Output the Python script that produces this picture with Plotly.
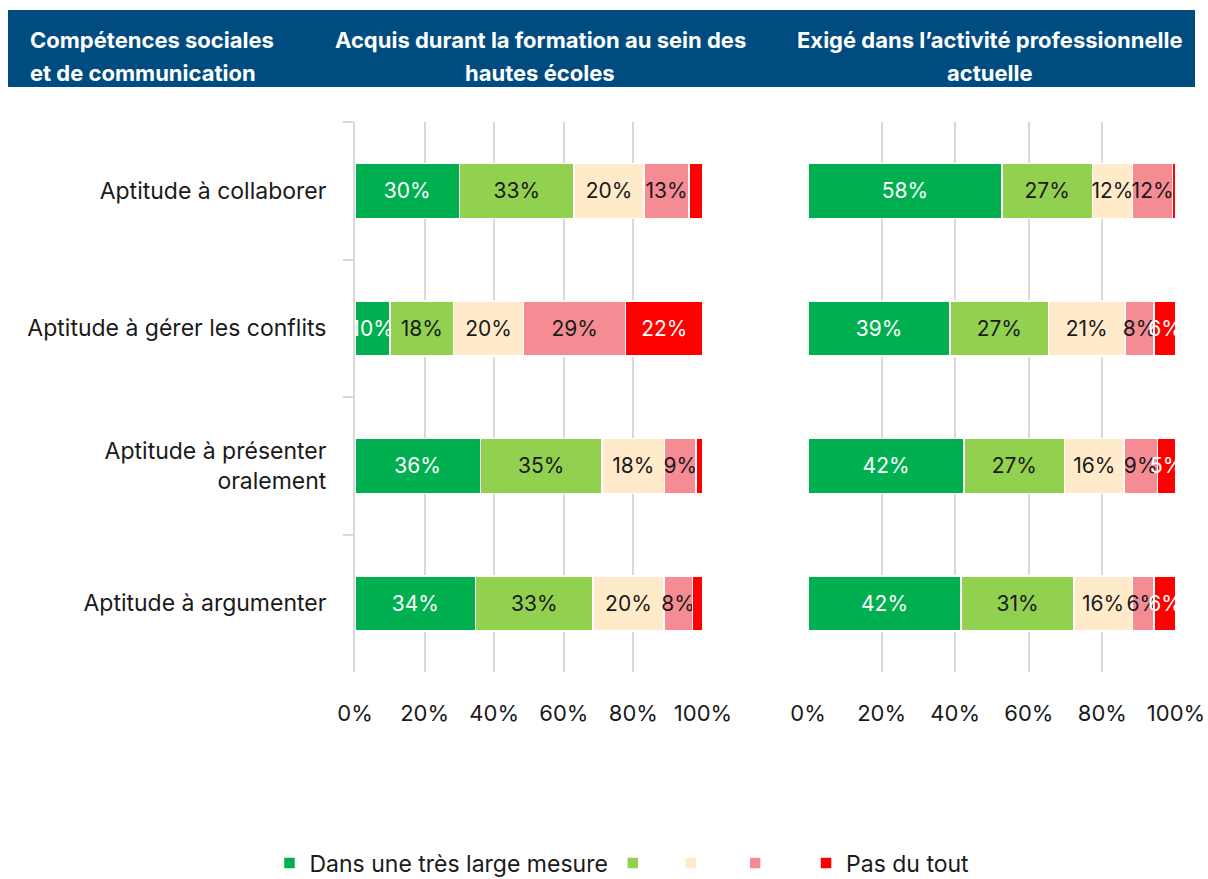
import plotly.graph_objects as go
from plotly.subplots import make_subplots

# Categories (top to bottom)
skills = [
    "Aptitude à collaborer",
    "Aptitude à gérer les conflits",
    "Aptitude à présenter<br>oralement",
    "Aptitude à argumenter",
]

levels = [
    "Dans une très large mesure",
    "\u00a0\u00a0",
    "\u00a0\u00a0\u00a0",
    "\u00a0\u00a0\u00a0\u00a0",
    "Pas du tout",
]
colors = ["#00B050", "#92D050", "#FFEBC9", "#F58C94", "#FF0000"]
text_colors = ["#ffffff", "#1a1a1a", "#1a1a1a", "#1a1a1a", "#ffffff"]

# Acquis durant la formation au sein des hautes écoles (%)
acquired = [
    [30, 10, 36, 34],
    [33, 18, 35, 33],
    [20, 20, 18, 20],
    [13, 29, 9, 8],
    [4, 22, 2, 3],
]

# Exigé dans l'activité professionnelle actuelle (%)
required = [
    [58, 39, 42, 42],
    [27, 27, 27, 31],
    [12, 21, 16, 16],
    [12, 8, 9, 6],
    [1, 6, 5, 6],
]

x_ticks = [0, 20, 40, 60, 80, 100]
x_tick_text = ["0%", "20%", "40%", "60%", "80%", "100%"]

W, H = 1208, 879
M_T, M_B = 122, 207
PLOT_H = H - M_T - M_B


def px_x(px):
    return px / W


def px_y(py):
    return (H - M_B - py) / PLOT_H


FONT = "Inter"
DARK = "#1a1a1a"
GRID = "#d9d9d9"

fig = make_subplots(rows=1, cols=2, shared_yaxes=False)

for col, data in ((1, acquired), (2, required)):
    for i, vals in enumerate(data):
        labels = [f"{v}%" if v >= 5 else "" for v in vals]
        fig.add_trace(
            go.Bar(
                y=skills,
                x=vals,
                orientation="h",
                name=levels[i],
                marker=dict(color=colors[i], line=dict(color="#ffffff", width=1.5)),
                text=labels,
                textposition="inside",
                insidetextanchor="middle",
                textangle=0,
                constraintext="none",
                textfont=dict(family=FONT, size=21, color=text_colors[i]),
                showlegend=(col == 1),
                legendgroup=str(i),
                hoverinfo="skip",
            ),
            row=1,
            col=col,
        )

fig.update_layout(
    width=W,
    height=H,
    autosize=False,
    barmode="stack",
    barnorm="percent",
    bargap=0.6,
    margin=dict(l=0, r=0, t=M_T, b=M_B, autoexpand=False),
    paper_bgcolor="#ffffff",
    plot_bgcolor="#ffffff",
    font=dict(family=FONT, size=20, color=DARK),
    legend=dict(
        orientation="h",
        x=px_x(622),
        xanchor="center",
        y=px_y(863),
        yanchor="middle",
        font=dict(family=FONT, size=23, color=DARK),
        traceorder="normal",
        itemwidth=30,
    ),
)

xaxis_common = dict(
    range=[0, 100],
    tickvals=x_ticks,
    ticktext=x_tick_text,
    showgrid=True,
    gridcolor=GRID,
    gridwidth=2,
    zeroline=False,
    showline=False,
    ticks="",
    ticklabelstandoff=26,
    automargin=False,
    tickfont=dict(family=FONT, size=22, color=DARK),
    fixedrange=True,
)
fig.update_xaxes(domain=[px_x(355), px_x(703)], row=1, col=1, **xaxis_common)
fig.update_xaxes(domain=[px_x(808), px_x(1176)], row=1, col=2, **xaxis_common)

fig.update_yaxes(
    row=1,
    col=1,
    autorange="reversed",
    automargin=False,
    showline=True,
    linecolor=GRID,
    linewidth=2,
    ticks="outside",
    tickson="boundaries",
    ticklen=10,
    tickcolor=GRID,
    tickwidth=2,
    ticklabelstandoff=22,
    tickfont=dict(family=FONT, size=23, color=DARK),
    showgrid=False,
)
fig.update_yaxes(
    row=1,
    col=2,
    autorange="reversed",
    automargin=False,
    showline=False,
    showticklabels=False,
    ticks="",
    showgrid=False,
)

# Header band
fig.add_shape(
    type="rect",
    xref="paper",
    yref="paper",
    x0=px_x(8),
    x1=px_x(1195),
    y0=px_y(87),
    y1=px_y(10),
    fillcolor="#004C80",
    line=dict(width=0),
    layer="above",
)

header_lines = [
    ("Compétences sociales", 28, 40, "left"),
    ("et de communication", 28, 73, "left"),
    ("Acquis durant la formation au sein des", 540, 40, "center"),
    ("hautes écoles", 540, 73, "center"),
    ("Exigé dans l’activité professionnelle", 990, 40, "center"),
    ("actuelle", 990, 73, "center"),
]
for txt, x, y, anchor in header_lines:
    fig.add_annotation(
        text=f"<b>{txt}</b>",
        xref="paper",
        yref="paper",
        x=px_x(x),
        y=px_y(y),
        xanchor=anchor,
        yanchor="middle",
        showarrow=False,
        font=dict(family=FONT, size=22, color="#ffffff"),
    )

fig.write_html("out.html")
